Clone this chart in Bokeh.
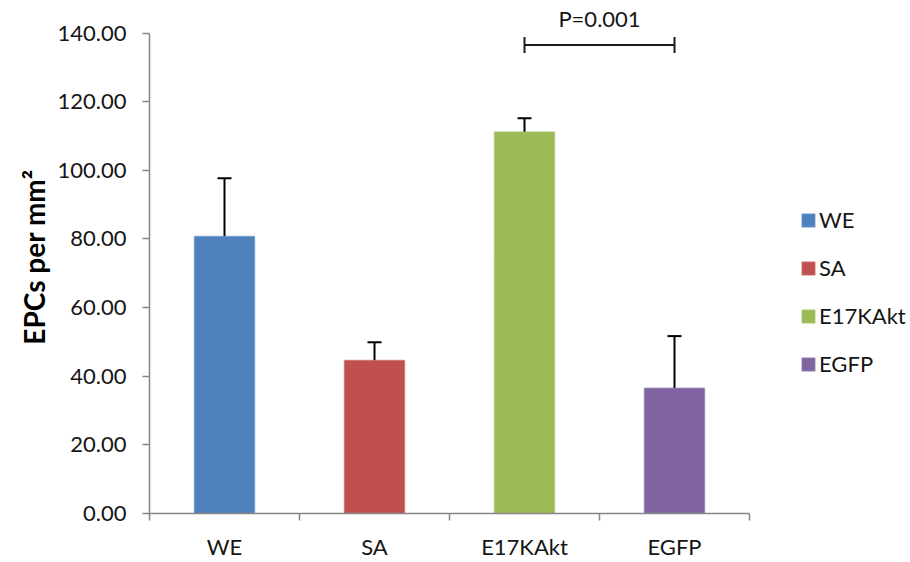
from bokeh.plotting import figure
from bokeh.models import (Range1d, FixedTicker, PrintfTickFormatter, Whisker, TeeHead,
                          ColumnDataSource, Legend, LegendItem)
from bokeh.embed import file_html
from bokeh.resources import INLINE
from bokeh.core.properties import value

# ---- data ----
categories = ["WE", "SA", "E17KAkt", "EGFP"]
means = [80.7, 44.6, 111.2, 36.5]
errors = [17.0, 5.3, 4.0, 15.2]
colors = ["#4F81BD", "#C0504D", "#9BBB59", "#8064A2"]
y_ticks = [0, 20, 40, 60, 80, 100, 120, 140]
sig_pair = ["E17KAkt", "EGFP"]
sig_text = "P=0.001"
sig_y = 136.5
sig_text_y = 144.4

FONT = "Lato"
FS = "22px"
AXIS_GRAY = "#868686"
TXT = "#151515"

n = len(categories)
x = [i + 0.5 for i in range(n)]
tops = [m + e for m, e in zip(means, errors)]
src = ColumnDataSource(dict(x=x, cat=categories, mean=means, top=tops, color=colors))

LEFT = 149
W = 910
UNIT_PX = 150  # pixels per category slot
p = figure(width=W, height=562, output_backend="svg", toolbar_location=None,
           x_range=Range1d(0, (W - LEFT) / UNIT_PX), y_range=Range1d(0, 149.5),
           min_border_left=LEFT, min_border_right=0, min_border_top=0, min_border_bottom=46)

bars = p.vbar(x="x", top="mean", width=0.4, fill_color="color", line_color="color",
              line_alpha=0.55, line_width=1.5, source=src)

p.add_layout(Whisker(base="x", lower="mean", upper="top", source=src, dimension="height",
                     line_color="black", line_width=2,
                     upper_head=TeeHead(size=14, line_width=2, line_color="black"),
                     lower_head=None))

i0 = categories.index(sig_pair[0]) + 0.5
i1 = categories.index(sig_pair[1]) + 0.5
sig_src = ColumnDataSource(dict(base=[sig_y], lower=[i0], upper=[i1]))
p.add_layout(Whisker(base="base", lower="lower", upper="upper", source=sig_src, dimension="width",
                     line_color="#1a1a1a", line_width=2,
                     upper_head=TeeHead(size=16, line_width=2, line_color="#1a1a1a"),
                     lower_head=TeeHead(size=16, line_width=2, line_color="#1a1a1a")))
p.text(x=[(i0 + i1) / 2], y=[sig_text_y], text=[sig_text], text_align="center",
       text_baseline="middle", text_font=value(FONT), text_font_size=FS, text_color=TXT)

# legend
items = [LegendItem(label=c, renderers=[bars], index=i) for i, c in enumerate(categories)]
legend = Legend(items=items, location=(651, 136), padding=0, margin=0,
                border_line_color=None, background_fill_alpha=0,
                glyph_width=16, glyph_height=16, label_standoff=3, spacing=21,
                label_text_font=FONT, label_text_font_size=FS, label_text_color=TXT)
p.add_layout(legend, "center")

# axes
xa = p.xaxis[0]
xa.ticker = FixedTicker(ticks=x, minor_ticks=list(range(n + 1)))
xa.major_label_overrides = {xi: c for xi, c in zip(x, categories)}
xa.bounds = (0, n)
xa.major_tick_out = 0
xa.major_tick_in = 0
xa.minor_tick_out = 7
xa.minor_tick_in = 0
xa.minor_tick_line_color = AXIS_GRAY
xa.minor_tick_line_width = 1.5
xa.major_label_standoff = 12

ya = p.yaxis[0]
ya.ticker = FixedTicker(ticks=y_ticks)
ya.formatter = PrintfTickFormatter(format="%.2f")
ya.bounds = (0, 140)
ya.major_tick_out = 7
ya.major_tick_in = 0
ya.minor_tick_line_color = None
ya.major_label_standoff = 16
ya.axis_label = "EPCs per mm²"
ya.axis_label_text_font = FONT
ya.axis_label_text_font_style = "bold"
ya.axis_label_text_font_size = "28px"
ya.axis_label_text_color = "#000000"
ya.axis_label_standoff = 4

for ax in (xa, ya):
    ax.axis_line_color = AXIS_GRAY
    ax.axis_line_width = 1.5
    ax.major_tick_line_color = AXIS_GRAY
    ax.major_tick_line_width = 1.5
    ax.major_label_text_font = FONT
    ax.major_label_text_font_size = FS
    ax.major_label_text_color = TXT

p.grid.visible = False
p.outline_line_color = None

open("out.html", "w").write(file_html(p, INLINE))
